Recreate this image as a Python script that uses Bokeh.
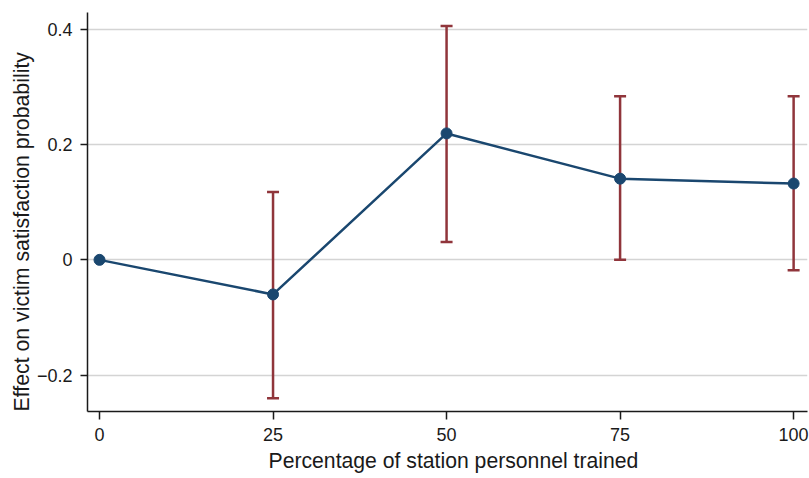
from bokeh.plotting import figure
from bokeh.models import (ColumnDataSource, Whisker, TeeHead, FixedTicker,
                          CustomJSTickFormatter, Range1d, Title)
from bokeh.embed import file_html
from bokeh.resources import INLINE

# ---- data ----
pct_trained = [0, 25, 50, 75, 100]
effect = [0.0, -0.060, 0.2195, 0.141, 0.1325]
ci_lower = [0.0, -0.240, 0.031, 0.000, -0.018]
ci_upper = [0.0, 0.118, 0.406, 0.284, 0.284]

x_ticks = [0, 25, 50, 75, 100]
x_tick_labels = ["0", "25", "50", "75", "100"]
y_ticks = [-0.2, 0, 0.2, 0.4]
y_tick_labels = ["\u22120.2", "0", "0.2", "0.4"]

x_title = "Percentage of station personnel trained"
y_title = "Effect on victim satisfaction probability"

NAVY = "#1a476f"
MAROON = "#90353b"
FONT = "Liberation Sans"
TXT = "#1a1a1a"

src = ColumnDataSource(dict(x=pct_trained, y=effect, lo=ci_lower, hi=ci_upper))
# error bars only where an interval exists
eb_idx = [i for i in range(len(pct_trained)) if ci_upper[i] != ci_lower[i]]
eb_src = ColumnDataSource(dict(
    x=[pct_trained[i] for i in eb_idx],
    lo=[ci_lower[i] for i in eb_idx],
    hi=[ci_upper[i] for i in eb_idx],
))

p = figure(width=809, height=478, output_backend="svg", toolbar_location=None,
           x_range=Range1d(-1.73, 102.0), y_range=Range1d(-0.2632, 0.4294),
           min_border_left=87, min_border_top=12, min_border_right=2, min_border_bottom=66)
p.outline_line_color = None
p.background_fill_color = "white"
p.border_fill_color = "white"

w = Whisker(source=eb_src, base="x", lower="lo", upper="hi",
            line_color=MAROON, line_width=2.5,
            upper_head=TeeHead(size=12, line_color=MAROON, line_width=2.5),
            lower_head=TeeHead(size=12, line_color=MAROON, line_width=2.5))
p.add_layout(w)

p.line("x", "y", source=src, line_color=NAVY, line_width=2.5)
p.scatter("x", "y", source=src, size=11, fill_color=NAVY, line_color=NAVY)

# axes
p.xaxis.ticker = FixedTicker(ticks=x_ticks)
p.xaxis.formatter = CustomJSTickFormatter(args=dict(t=x_ticks, l=x_tick_labels), code="""
    for (let i = 0; i < t.length; i++) { if (Math.abs(t[i] - tick) < 1e-9) return l[i]; }
    return '';
""")
p.yaxis.ticker = FixedTicker(ticks=y_ticks)
p.yaxis.formatter = CustomJSTickFormatter(args=dict(t=y_ticks, l=y_tick_labels), code="""
    for (let i = 0; i < t.length; i++) { if (Math.abs(t[i] - tick) < 1e-9) return l[i]; }
    return '';
""")

for ax in (p.xaxis[0], p.yaxis[0]):
    ax.axis_line_color = TXT
    ax.axis_line_width = 1.5
    ax.major_tick_line_color = TXT
    ax.major_tick_line_width = 1.5
    ax.major_tick_in = 0
    ax.minor_tick_line_color = None
    ax.major_label_text_font = FONT
    ax.major_label_text_font_size = "18px"
    ax.major_label_text_color = TXT

p.xaxis.major_tick_out = 8
p.yaxis.major_tick_out = 7
p.xaxis.major_label_standoff = 8
p.yaxis.major_label_standoff = 8

# axis titles, positioned slightly off-centre as in the reference
p.add_layout(Title(text=x_title, align="left", offset=181, vertical_align="top",
                   text_font=FONT, text_font_size="21.2px", text_font_style="normal",
                   text_color=TXT, standoff=10), "below")
p.add_layout(Title(text=y_title, align="left", text_font=FONT, text_font_size="21.3px",
                   text_font_style="normal", text_color=TXT, standoff=0), "left")

p.xgrid.grid_line_color = None
p.ygrid.grid_line_color = "#d4d4d4"
p.ygrid.grid_line_width = 1.5

open("out.html", "w").write(file_html(p, INLINE))
